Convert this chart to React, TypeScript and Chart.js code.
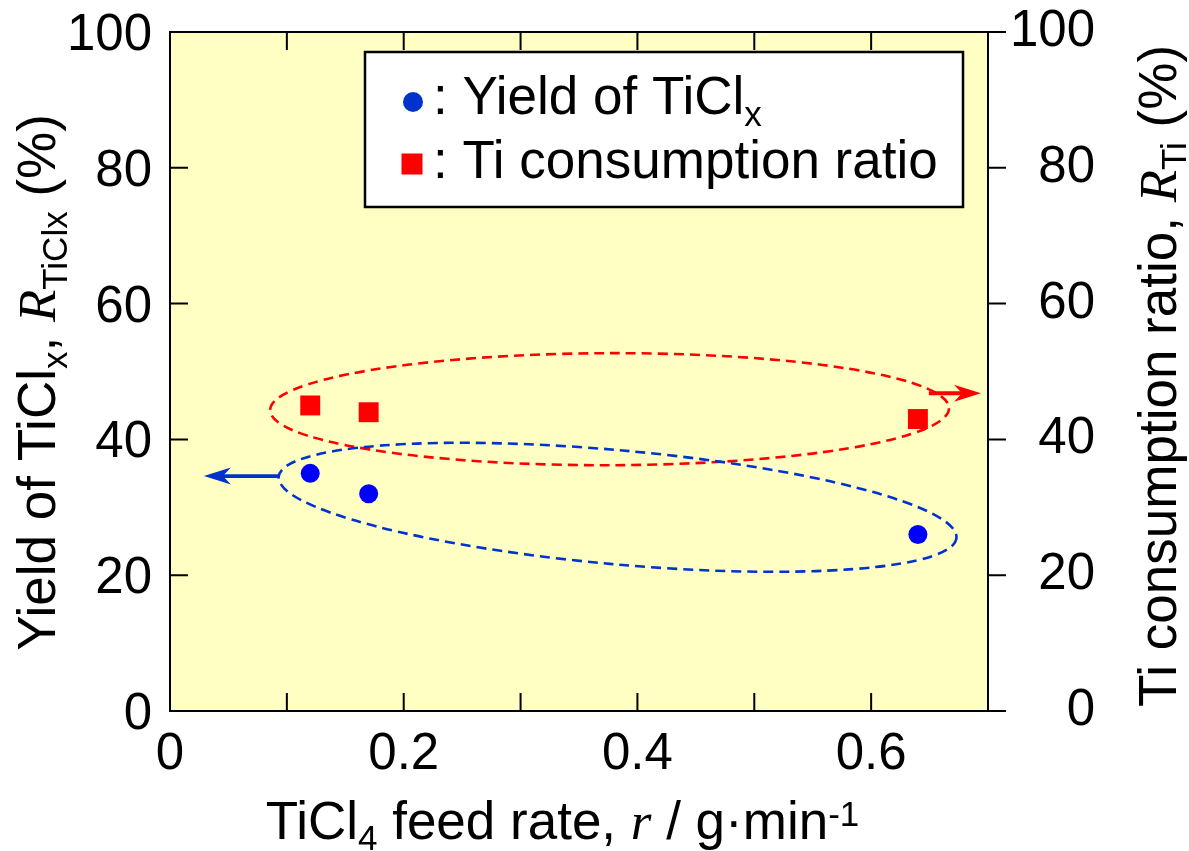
import React, { useEffect, useRef } from 'react';
import { Chart, registerables } from 'chart.js';

Chart.register(...registerables);

// ---- data ----
const feedRate = [0.12, 0.17, 0.64];
const yieldTiClx = [35, 32, 26];
const tiConsumptionRatio = [45, 44, 43];
const seriesNames = ['Yield of TiCl', 'Ti consumption ratio'];

const xLabeledValues = [0, 0.2, 0.4, 0.6];
const xTickLabels = ['0', '0.2', '0.4', '0.6'];
const yTickLabels = ['0', '20', '40', '60', '80', '100'];

// annotation shapes, in axis units
const yieldEllipseEnds = [[0.093, 34.5], [0.673, 25.5]];
const yieldEllipseHalfWidth = 8.4;
const ratioEllipseEnds = [[0.0857, 44.3], [0.6666, 44.6]];
const ratioEllipseHalfWidth = 8.25;
const yieldArrow = [[0.093, 34.6], [0.029, 34.6]];
const ratioArrow = [[0.6494, 46.8], [0.694, 46.8]];

const SANS = "'Liberation Sans', Arial, Helvetica, sans-serif";
const SERIF = "'Liberation Serif', 'Times New Roman', serif";
const BLUE_PT = '#0000FF';
const BLUE_LINE = '#0033CC';
const RED = '#FF0000';

type Run = { t: string; size: number; italic?: boolean; serif?: boolean; dy?: number };

const fontOf = (r: Run) => `${r.italic ? 'italic ' : ''}${r.size}px ${r.serif ? SERIF : SANS}`;

function runsWidth(ctx: CanvasRenderingContext2D, runs: Run[]) {
  let w = 0;
  for (const r of runs) {
    ctx.font = fontOf(r);
    w += ctx.measureText(r.t).width;
  }
  return w;
}

function drawRuns(ctx: CanvasRenderingContext2D, runs: Run[], x: number, y: number) {
  let cx = x;
  ctx.textAlign = 'left';
  ctx.textBaseline = 'alphabetic';
  for (const r of runs) {
    ctx.font = fontOf(r);
    ctx.fillText(r.t, cx, y + (r.dy || 0));
    cx += ctx.measureText(r.t).width;
  }
}

const FS = 53;
const SUB = 35;

const xTitle: Run[] = [
  { t: 'TiCl', size: FS },
  { t: '4', size: SUB, dy: 11 },
  { t: ' feed rate, ', size: FS },
  { t: 'r', size: FS, italic: true, serif: true },
  { t: ' / g\u00B7min', size: FS },
  { t: '-1', size: SUB, dy: -13 },
];
const yTitle: Run[] = [
  { t: 'Yield of TiCl', size: FS },
  { t: 'x', size: SUB, dy: 12 },
  { t: ', ', size: FS },
  { t: 'R', size: FS, italic: true, serif: true },
  { t: 'TiClx', size: SUB, dy: 12 },
  { t: ' (%)', size: FS },
];
const y2Title: Run[] = [
  { t: 'Ti consumption ratio, ', size: FS },
  { t: 'R', size: FS, italic: true, serif: true },
  { t: 'Ti', size: SUB, dy: 10 },
  { t: ' (%)', size: FS },
];

function drawArrow(ctx: CanvasRenderingContext2D, x0: number, y0: number, x1: number, y1: number, color: string) {
  const ang = Math.atan2(y1 - y0, x1 - x0);
  const headLen = 27;
  const notch = 19;
  const half = 8.5;
  ctx.save();
  ctx.strokeStyle = color;
  ctx.fillStyle = color;
  ctx.lineWidth = 3.8;
  ctx.setLineDash([]);
  ctx.beginPath();
  ctx.moveTo(x0, y0);
  ctx.lineTo(x1 - Math.cos(ang) * notch, y1 - Math.sin(ang) * notch);
  ctx.stroke();
  ctx.translate(x1, y1);
  ctx.rotate(ang);
  ctx.beginPath();
  ctx.moveTo(0, 0);
  ctx.lineTo(-headLen, -half);
  ctx.lineTo(-notch, 0);
  ctx.lineTo(-headLen, half);
  ctx.closePath();
  ctx.fill();
  ctx.restore();
}

function drawEllipse(chart: any, ends: number[][], halfWidth: number, yId: string, color: string) {
  const { ctx } = chart;
  const xs = chart.scales.x;
  const ys = chart.scales[yId];
  const p0 = [xs.getPixelForValue(ends[0][0]), ys.getPixelForValue(ends[0][1])];
  const p1 = [xs.getPixelForValue(ends[1][0]), ys.getPixelForValue(ends[1][1])];
  const cx = (p0[0] + p1[0]) / 2;
  const cy = (p0[1] + p1[1]) / 2;
  const a = Math.hypot(p1[0] - p0[0], p1[1] - p0[1]) / 2;
  const b = Math.abs(ys.getPixelForValue(0) - ys.getPixelForValue(halfWidth));
  const ang = Math.atan2(p1[1] - p0[1], p1[0] - p0[0]);
  ctx.save();
  ctx.strokeStyle = color;
  ctx.lineWidth = 2.6;
  ctx.setLineDash([10, 6]);
  ctx.beginPath();
  ctx.ellipse(cx, cy, a, b, ang, 0, Math.PI * 2);
  ctx.stroke();
  ctx.restore();
}

const decorPlugin = {
  id: 'decor',
  beforeDraw(chart: any) {
    const { ctx, chartArea: ca } = chart;
    ctx.save();
    ctx.fillStyle = '#FFFFFF';
    ctx.fillRect(0, 0, chart.width, chart.height);
    ctx.fillStyle = '#FFFFC4';
    ctx.fillRect(ca.left, ca.top, ca.right - ca.left, ca.bottom - ca.top);
    ctx.restore();
  },
  beforeDatasetsDraw(chart: any) {
    drawEllipse(chart, ratioEllipseEnds, ratioEllipseHalfWidth, 'y2', RED);
    drawEllipse(chart, yieldEllipseEnds, yieldEllipseHalfWidth, 'y', BLUE_LINE);
  },
  afterDraw(chart: any) {
    const { ctx, chartArea: ca } = chart;
    const xs = chart.scales.x;
    const ys = chart.scales.y;
    const y2s = chart.scales.y2;

    // arrows
    drawArrow(ctx, xs.getPixelForValue(yieldArrow[0][0]), ys.getPixelForValue(yieldArrow[0][1]),
      xs.getPixelForValue(yieldArrow[1][0]), ys.getPixelForValue(yieldArrow[1][1]), BLUE_LINE);
    drawArrow(ctx, xs.getPixelForValue(ratioArrow[0][0]), y2s.getPixelForValue(ratioArrow[0][1]),
      xs.getPixelForValue(ratioArrow[1][0]), y2s.getPixelForValue(ratioArrow[1][1]), RED);

    // frame and ticks
    ctx.save();
    ctx.strokeStyle = '#000';
    ctx.lineWidth = 2;
    ctx.setLineDash([]);
    ctx.strokeRect(ca.left, ca.top, ca.right - ca.left, ca.bottom - ca.top);
    const TL = 18;
    ctx.beginPath();
    for (const t of xs.ticks) {
      const px = xs.getPixelForValue(t.value);
      ctx.moveTo(px, ca.bottom);
      ctx.lineTo(px, ca.bottom - TL);
      ctx.moveTo(px, ca.top);
      ctx.lineTo(px, ca.top + TL);
    }
    for (const t of ys.ticks) {
      const py = ys.getPixelForValue(t.value);
      ctx.moveTo(ca.left, py);
      ctx.lineTo(ca.left + TL, py);
    }
    for (const t of y2s.ticks) {
      const py = y2s.getPixelForValue(t.value);
      ctx.moveTo(ca.right, py);
      ctx.lineTo(ca.right + TL, py);
    }
    ctx.stroke();
    ctx.restore();

    // legend
    const lx = ca.left + 195;
    const ly = ca.top + 20;
    const lw = 598;
    const lh = 155;
    ctx.save();
    ctx.fillStyle = '#FFFFFF';
    ctx.fillRect(lx, ly, lw, lh);
    ctx.strokeStyle = '#000';
    ctx.lineWidth = 2.5;
    ctx.strokeRect(lx, ly, lw, lh);
    ctx.fillStyle = BLUE_LINE;
    ctx.beginPath();
    ctx.arc(lx + 48, ly + 50, 10, 0, Math.PI * 2);
    ctx.fill();
    ctx.fillStyle = RED;
    ctx.fillRect(lx + 47 - 10.5, ly + 112 - 10.5, 21, 21);
    ctx.fillStyle = '#000';
    drawRuns(ctx, [{ t: ': ' + seriesNames[0], size: FS }, { t: 'x', size: SUB, dy: 12 }], lx + 68, ly + 62);
    drawRuns(ctx, [{ t: ': ' + seriesNames[1], size: FS }], lx + 68, ly + 126);
    ctx.restore();

    // axis titles
    ctx.save();
    ctx.fillStyle = '#000';
    const wx = runsWidth(ctx, xTitle);
    drawRuns(ctx, xTitle, 562.5 - wx / 2, ca.bottom + 128);
    ctx.restore();

    ctx.save();
    ctx.fillStyle = '#000';
    const wy = runsWidth(ctx, yTitle);
    ctx.translate(ca.left - 115, 382.5);
    ctx.rotate(-Math.PI / 2);
    drawRuns(ctx, yTitle, -wy / 2, 0);
    ctx.restore();

    ctx.save();
    ctx.fillStyle = '#000';
    const wy2 = runsWidth(ctx, y2Title);
    ctx.translate(ca.right + 188, 376);
    ctx.rotate(-Math.PI / 2);
    drawRuns(ctx, y2Title, -wy2 / 2, 0);
    ctx.restore();
  },
};

const fixVertical = (w: number) => (s: any) => {
  s.width = w;
  s.paddingTop = 0;
  s.paddingBottom = 0;
};

export default function App() {
  const ref = useRef<HTMLCanvasElement>(null);
  useEffect(() => {
    document.body.style.margin = '0';
    const canvas = ref.current;
    if (!canvas) return;
    const tickFont = { family: SANS, size: 51 };
    const chart = new Chart(canvas, {
      type: 'scatter',
      data: {
        datasets: [
          {
            label: seriesNames[0],
            data: feedRate.map((x, i) => ({ x, y: yieldTiClx[i] })),
            yAxisID: 'y',
            pointStyle: 'circle',
            pointRadius: 9.5,
            pointHoverRadius: 9.5,
            backgroundColor: BLUE_PT,
            borderColor: BLUE_PT,
            borderWidth: 0,
          },
          {
            label: seriesNames[1],
            data: feedRate.map((x, i) => ({ x, y: tiConsumptionRatio[i] })),
            yAxisID: 'y2',
            pointStyle: 'rect',
            pointRadius: 14.1,
            pointHoverRadius: 14.1,
            backgroundColor: RED,
            borderColor: RED,
            borderWidth: 0,
          },
        ],
      },
      options: {
        responsive: false,
        animation: false,
        devicePixelRatio: 1,
        events: [],
        layout: { padding: { top: 32, right: 94, left: 0, bottom: 0 } },
        plugins: { legend: { display: false }, tooltip: { enabled: false } },
        scales: {
          x: {
            type: 'linear',
            position: 'bottom',
            min: 0,
            max: 0.7,
            grid: { display: false, drawTicks: false },
            border: { display: false },
            title: { display: false },
            ticks: {
              stepSize: 0.1,
              autoSkip: false,
              maxRotation: 0,
              minRotation: 0,
              padding: 13,
              color: '#000',
              font: tickFont,
              callback: (v: any) => {
                const idx = xLabeledValues.findIndex((q) => Math.abs(q - Number(v)) < 1e-6);
                return idx >= 0 ? xTickLabels[idx] : '';
              },
            },
            afterFit: (s: any) => {
              s.height = 140;
              s.paddingLeft = 0;
              s.paddingRight = 0;
            },
          },
          y: {
            type: 'linear',
            position: 'left',
            min: 0,
            max: 100,
            grid: { display: false, drawTicks: false },
            border: { display: false },
            ticks: {
              stepSize: 20,
              autoSkip: false,
              padding: 18,
              labelOffset: 4,
              color: '#000',
              font: tickFont,
              callback: (v: any, i: number) => yTickLabels[i] ?? String(v),
            },
            afterFit: fixVertical(170),
          },
          y2: {
            type: 'linear',
            position: 'right',
            min: 0,
            max: 100,
            grid: { display: false, drawTicks: false },
            border: { display: false },
            ticks: {
              stepSize: 20,
              autoSkip: false,
              padding: 28,
              crossAlign: 'far',
              color: '#000',
              font: tickFont,
              callback: (v: any, i: number) => yTickLabels[i] ?? String(v),
            },
            afterFit: fixVertical(107),
          },
        },
      } as any,
      plugins: [decorPlugin],
    });
    return () => chart.destroy();
  }, []);
  return <canvas ref={ref} width={1189} height={851} style={{ display: 'block' }} />;
}
